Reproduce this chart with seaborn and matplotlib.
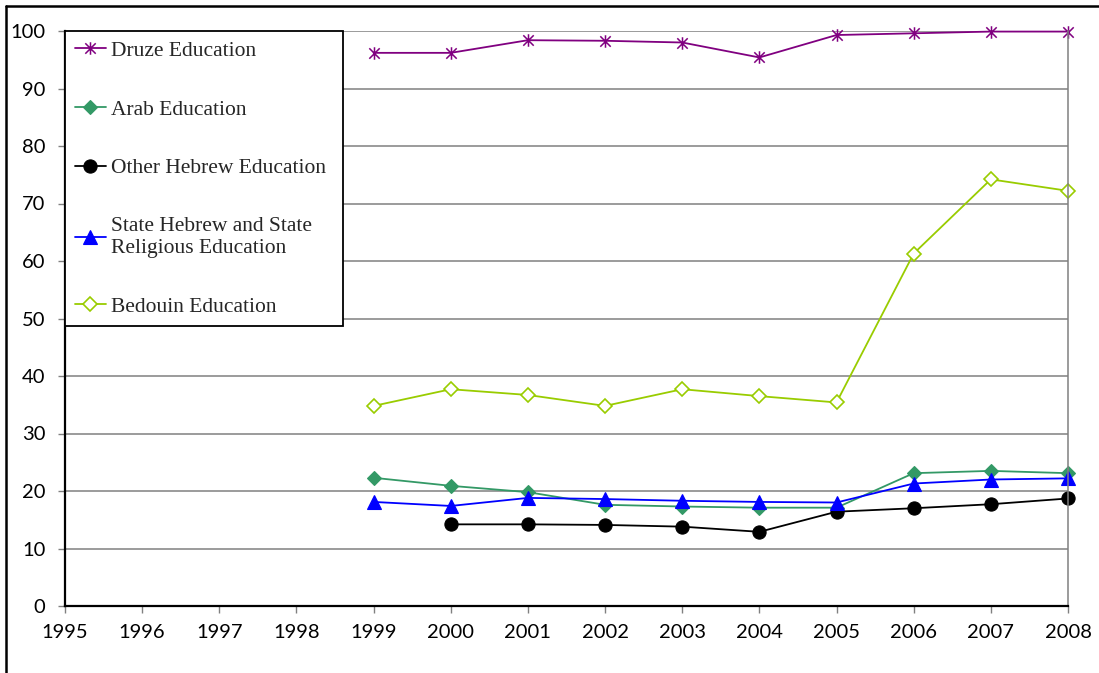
import numpy as np
import matplotlib
matplotlib.use("Agg")
import matplotlib.pyplot as plt
import seaborn as sns
from matplotlib.lines import Line2D
from matplotlib.path import Path

years = [1999, 2000, 2001, 2002, 2003, 2004, 2005, 2006, 2007, 2008]
druze = [96.2, 96.2, 98.4, 98.3, 98.0, 95.4, 99.3, 99.6, 99.9, 99.9]
arab = [22.3, 20.9, 19.8, 17.6, 17.3, 17.1, 17.1, 23.1, 23.5, 23.1]
other_hebrew = [np.nan, 14.2, 14.2, 14.1, 13.8, 12.9, 16.4, 17.0, 17.7, 18.7]
state_hebrew = [18.1, 17.4, 18.8, 18.6, 18.3, 18.1, 18.0, 21.3, 22.0, 22.2]
bedouin = [34.8, 37.7, 36.7, 34.8, 37.7, 36.5, 35.4, 61.3, 74.2, 72.2]

labels = ["Druze Education", "Arab Education", "Other Hebrew Education",
          "State Hebrew and State\nReligious Education", "Bedouin Education"]
x_ticks = list(range(1995, 2009))
y_ticks = list(range(0, 101, 10))

sns.set_style("white")
plt.rcParams["font.family"] = ["Lato", "DejaVu Sans"]

# asterisk marker: X plus vertical bar
star = Path([(-1, -1), (1, 1), (-1, 1), (1, -1), (0, -1.2), (0, 1.2)],
            [Path.MOVETO, Path.LINETO, Path.MOVETO, Path.LINETO, Path.MOVETO, Path.LINETO])

fig = plt.figure(figsize=(10.99, 6.73), dpi=100)
ax = fig.add_axes([65 / 1099, 1 - 606 / 673, (1068 - 65) / 1099, (606 - 31) / 673])

common = dict(ax=ax, linewidth=1.3, clip_on=False)
sns.lineplot(x=years, y=druze, color="#800080", marker=star, markersize=9,
             markeredgecolor="#800080", markeredgewidth=1.1, label=labels[0], **common)
sns.lineplot(x=years, y=arab, color="#339966", marker="D", markersize=7,
             markeredgecolor="#339966", markeredgewidth=0.8, label=labels[1], **common)
sns.lineplot(x=years, y=other_hebrew, color="black", marker="o", markersize=9.5,
             markeredgecolor="black", markeredgewidth=0.8, label=labels[2], **common)
sns.lineplot(x=years, y=state_hebrew, color="#0000FF", marker="^", markersize=10,
             markeredgecolor="#0000FF", markeredgewidth=0.8, label=labels[3], **common)
sns.lineplot(x=years, y=bedouin, color="#99CC00", marker="D", markersize=7.5,
             markerfacecolor="white", markeredgecolor="#99CC00", markeredgewidth=1.2,
             label=labels[4], **common)

ax.set_xlim(1995, 2008)
ax.set_ylim(0, 100)
ax.set_xticks(x_ticks)
ax.set_xticklabels([str(v) for v in x_ticks])
ax.set_yticks(y_ticks)
ax.set_yticklabels([str(v) for v in y_ticks])
ax.tick_params(axis="x", direction="out", length=5, width=1, color="#808080",
               labelsize=14.5, pad=8, bottom=True, labelcolor="black")
ax.tick_params(axis="y", direction="out", length=5, width=1, color="#808080",
               labelsize=14.5, pad=9, left=True, labelcolor="black")
ax.set_xlabel("")
ax.set_ylabel("")

ax.grid(True, axis="y", color="#808080", linewidth=1.1)
ax.grid(False, axis="x")
ax.set_axisbelow(True)
for side in ["left", "bottom"]:
    ax.spines[side].set_color("black")
    ax.spines[side].set_linewidth(1.6)
    ax.spines[side].set_zorder(5)
ax.spines["right"].set_color("#808080")
ax.spines["right"].set_linewidth(1.1)
ax.spines["top"].set_visible(False)

leg = ax.legend(loc="upper left", bbox_to_anchor=(0, 0, 278 / 1003, 1), mode="expand",
                borderaxespad=0, borderpad=0.45, labelspacing=1.8, handlelength=1.45,
                handletextpad=0.25, frameon=True, fancybox=False,
                prop={"family": "Liberation Serif", "size": 15.5})
leg.get_frame().set_edgecolor("black")
leg.get_frame().set_linewidth(1.3)
leg.get_frame().set_alpha(1)
leg.set_zorder(10)

fig.add_artist(Line2D([6 / 1099, 6 / 1099], [0, 1 - 6 / 673], transform=fig.transFigure,
                      color="black", linewidth=1.8))
fig.add_artist(Line2D([6 / 1099, 1], [1 - 6 / 673, 1 - 6 / 673], transform=fig.transFigure,
                      color="black", linewidth=1.8))

fig.savefig("out.png", dpi=100)
